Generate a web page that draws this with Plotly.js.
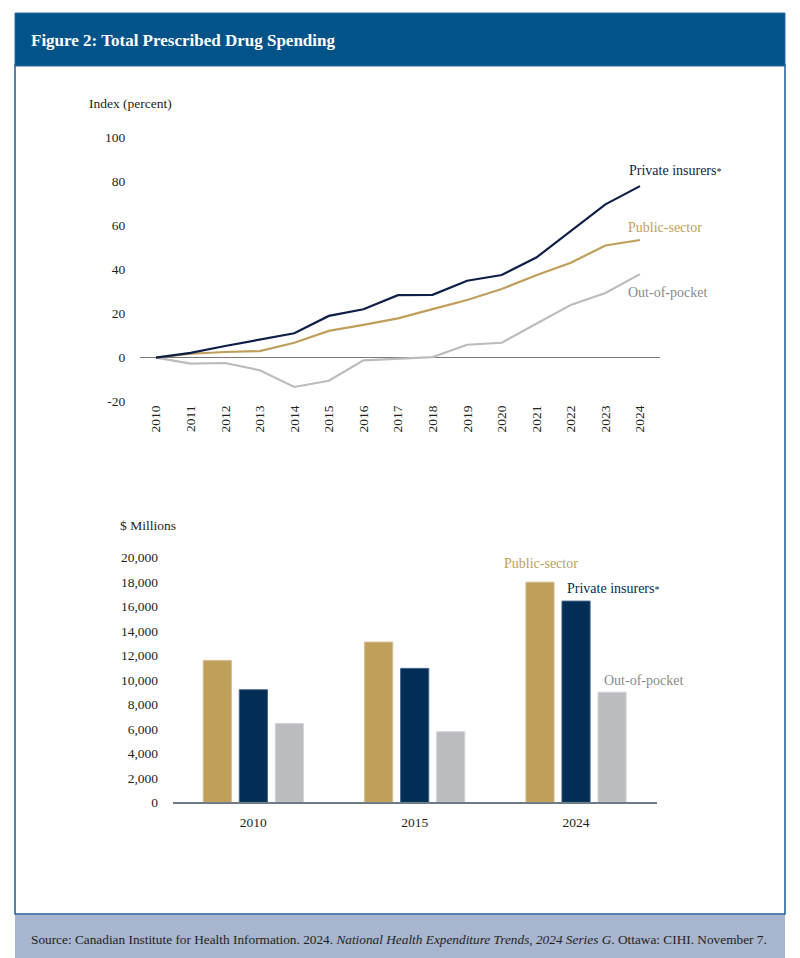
<!DOCTYPE html>
<html>
<head>
<meta charset="utf-8">
<script src="https://cdn.plot.ly/plotly-3.0.1.min.js"></script>
<style>
html,body{margin:0;padding:0;background:#fff;}
#chart{width:800px;height:958px;}
</style>
</head>
<body>
<div id="chart"></div>
<script>
// ---- Data ----
const years = [2010,2011,2012,2013,2014,2015,2016,2017,2018,2019,2020,2021,2022,2023,2024];
const privateIndex = [0,2.2,5.3,8.2,11.1,19.0,22.0,28.4,28.6,35.0,37.6,45.5,57.6,69.7,78.0];
const publicIndex  = [0,1.8,2.6,3.0,6.8,12.2,14.9,17.9,22.1,26.2,31.2,37.5,43.2,51.0,53.5];
const oopIndex     = [0,-2.7,-2.4,-5.7,-13.3,-10.5,-1.2,-0.5,0.3,5.9,6.8,15.4,24.0,29.4,38.0];

const barYears = ["2010","2015","2024"];
const publicSpend  = [11600,13100,18000];
const privateSpend = [9200,10950,16450];
const oopSpend     = [6450,5770,9000];

const lineTicks = [-20,0,20,40,60,80,100];
const lineTickText = ['-20','0','20','40','60','80','100'];
const barTicks = [0,2000,4000,6000,8000,10000,12000,14000,16000,18000,20000];
const barTickText = ['0','2,000','4,000','6,000','8,000','10,000','12,000','14,000','16,000','18,000','20,000'];

// ---- Styles ----
const W = 800, H = 958;
const NAVY_LINE = '#0e1f47';
const NAVY_BAR = '#022d55';
const GOLD = '#bf9f5a';
const GRAY_LINE = '#bcbcbc';
const GRAY_BAR = '#bbbcc0';
const FONT = 'Liberation Serif, DejaVu Serif, serif';
const TXT = '#231f20';
const px = x => x / W;
const py = y => 1 - y / H;

const traces = [
  {x: years, y: oopIndex, type:'scatter', mode:'lines', line:{color:GRAY_LINE, width:2.2}, xaxis:'x', yaxis:'y', hoverinfo:'skip'},
  {x: years, y: publicIndex, type:'scatter', mode:'lines', line:{color:GOLD, width:2.2}, xaxis:'x', yaxis:'y', hoverinfo:'skip'},
  {x: years, y: privateIndex, type:'scatter', mode:'lines', line:{color:NAVY_LINE, width:2.2}, xaxis:'x', yaxis:'y', hoverinfo:'skip'},
  {x: barYears, y: publicSpend, type:'bar', marker:{color:GOLD, line:{color:'#d4bd8a', width:1}}, xaxis:'x2', yaxis:'y2', hoverinfo:'skip'},
  {x: barYears, y: privateSpend, type:'bar', marker:{color:NAVY_BAR, line:{color:'#3c5f85', width:1}}, xaxis:'x2', yaxis:'y2', hoverinfo:'skip'},
  {x: barYears, y: oopSpend, type:'bar', marker:{color:GRAY_BAR, line:{color:'#d2d3d6', width:1}}, xaxis:'x2', yaxis:'y2', hoverinfo:'skip'}
];

const STAR = '<span style="font-size:10px">*</span>';

const layout = {
  width: W, height: H,
  margin: {l:0, r:0, t:0, b:0},
  paper_bgcolor: '#fff', plot_bgcolor: 'rgba(0,0,0,0)',
  showlegend: false,
  font: {family: FONT, size: 13, color: TXT},
  barmode: 'group', bargap: 0.33, bargroupgap: 0.22,
  xaxis: {
    domain: [px(140), px(660)], anchor: 'y',
    range: [2009.537, 2024.579],
    tickmode: 'array', tickvals: years, ticktext: years.map(String),
    tickangle: -90, ticks: '', showgrid: false, zeroline: false, showline: false,
    tickfont: {family: FONT, size: 13.5, color: TXT}
  },
  yaxis: {
    domain: [py(401.7), py(137.7)], anchor: 'x',
    range: [-20, 100], tickmode: 'array', tickvals: lineTicks, ticktext: lineTickText,
    ticks: 'outside', ticklen: 11, tickcolor: 'rgba(0,0,0,0)',
    showgrid: false, zeroline: true, zerolinecolor: '#7a7a7a', zerolinewidth: 1.2,
    showline: false, tickfont: {family: FONT, size: 13.5, color: TXT}
  },
  xaxis2: {
    domain: [px(172.7), px(656.7)], anchor: 'y2',
    range: [-0.5, 2.5], type: 'category',
    ticks: 'outside', ticklen: 7, tickcolor: 'rgba(0,0,0,0)',
    showgrid: false, zeroline: false, showline: true, linecolor: '#6e7a86', linewidth: 1.5,
    tickfont: {family: FONT, size: 13.5, color: TXT}
  },
  yaxis2: {
    domain: [py(802.3), py(557.7)], anchor: 'x2',
    range: [0, 20000], tickmode: 'array', tickvals: barTicks, ticktext: barTickText,
    ticks: 'outside', ticklen: 11, tickcolor: 'rgba(0,0,0,0)',
    showgrid: false, zeroline: false, showline: false,
    tickfont: {family: FONT, size: 13.5, color: TXT}
  },
  shapes: [
    {type:'rect', xref:'paper', yref:'paper', x0:px(15), x1:px(785), y0:py(914), y1:py(65), fillcolor:'#fff', line:{color:'#1d5a93', width:1.5}, layer:'below'},
    {type:'rect', xref:'paper', yref:'paper', x0:px(15), x1:px(785), y0:py(66), y1:py(13), fillcolor:'#03538b', line:{color:'#2a6aa3', width:1}, layer:'below'},
    {type:'rect', xref:'paper', yref:'paper', x0:px(15), x1:px(785), y0:py(958), y1:py(915), fillcolor:'#a8b5ce', line:{width:0}, layer:'below'}
  ],
  annotations: [
    {xref:'paper', yref:'paper', x:px(29), y:py(40), xanchor:'left', yanchor:'middle', showarrow:false,
     text:'<b>Figure 2: Total Prescribed Drug Spending</b>', font:{family:FONT, size:17, color:'#fff'}},
    {xref:'paper', yref:'paper', x:px(29), y:py(939), xanchor:'left', yanchor:'middle', showarrow:false,
     text:'Source: Canadian Institute for Health Information. 2024. <i>National Health Expenditure Trends, 2024 Series G</i>. Ottawa: CIHI. November 7.',
     font:{family:FONT, size:13.3, color:TXT}},
    {xref:'paper', yref:'paper', x:px(87), y:py(103), xanchor:'left', yanchor:'middle', showarrow:false,
     text:'Index (percent)', font:{family:FONT, size:13.5, color:TXT}},
    {xref:'paper', yref:'paper', x:px(118), y:py(525), xanchor:'left', yanchor:'middle', showarrow:false,
     text:'$ Millions', font:{family:FONT, size:13.5, color:TXT}},
    {xref:'paper', yref:'paper', x:px(627), y:py(170), xanchor:'left', yanchor:'middle', showarrow:false,
     text:'Private insurers' + STAR, font:{family:FONT, size:14, color:NAVY_LINE}},
    {xref:'paper', yref:'paper', x:px(626), y:py(228), xanchor:'left', yanchor:'middle', showarrow:false,
     text:'Public-sector', font:{family:FONT, size:14, color:GOLD}},
    {xref:'paper', yref:'paper', x:px(626), y:py(292), xanchor:'left', yanchor:'middle', showarrow:false,
     text:'Out-of-pocket', font:{family:FONT, size:14, color:'#8a8a8c'}},
    {xref:'paper', yref:'paper', x:px(502), y:py(563), xanchor:'left', yanchor:'middle', showarrow:false,
     text:'Public-sector', font:{family:FONT, size:14, color:GOLD}},
    {xref:'paper', yref:'paper', x:px(565), y:py(588), xanchor:'left', yanchor:'middle', showarrow:false,
     text:'Private insurers' + STAR, font:{family:FONT, size:14, color:NAVY_BAR}},
    {xref:'paper', yref:'paper', x:px(602), y:py(680), xanchor:'left', yanchor:'middle', showarrow:false,
     text:'Out-of-pocket', font:{family:FONT, size:14, color:'#8a8a8c'}}
  ]
};

Plotly.newPlot('chart', traces, layout, {staticPlot: true, displayModeBar: false});
</script>
</body>
</html>
